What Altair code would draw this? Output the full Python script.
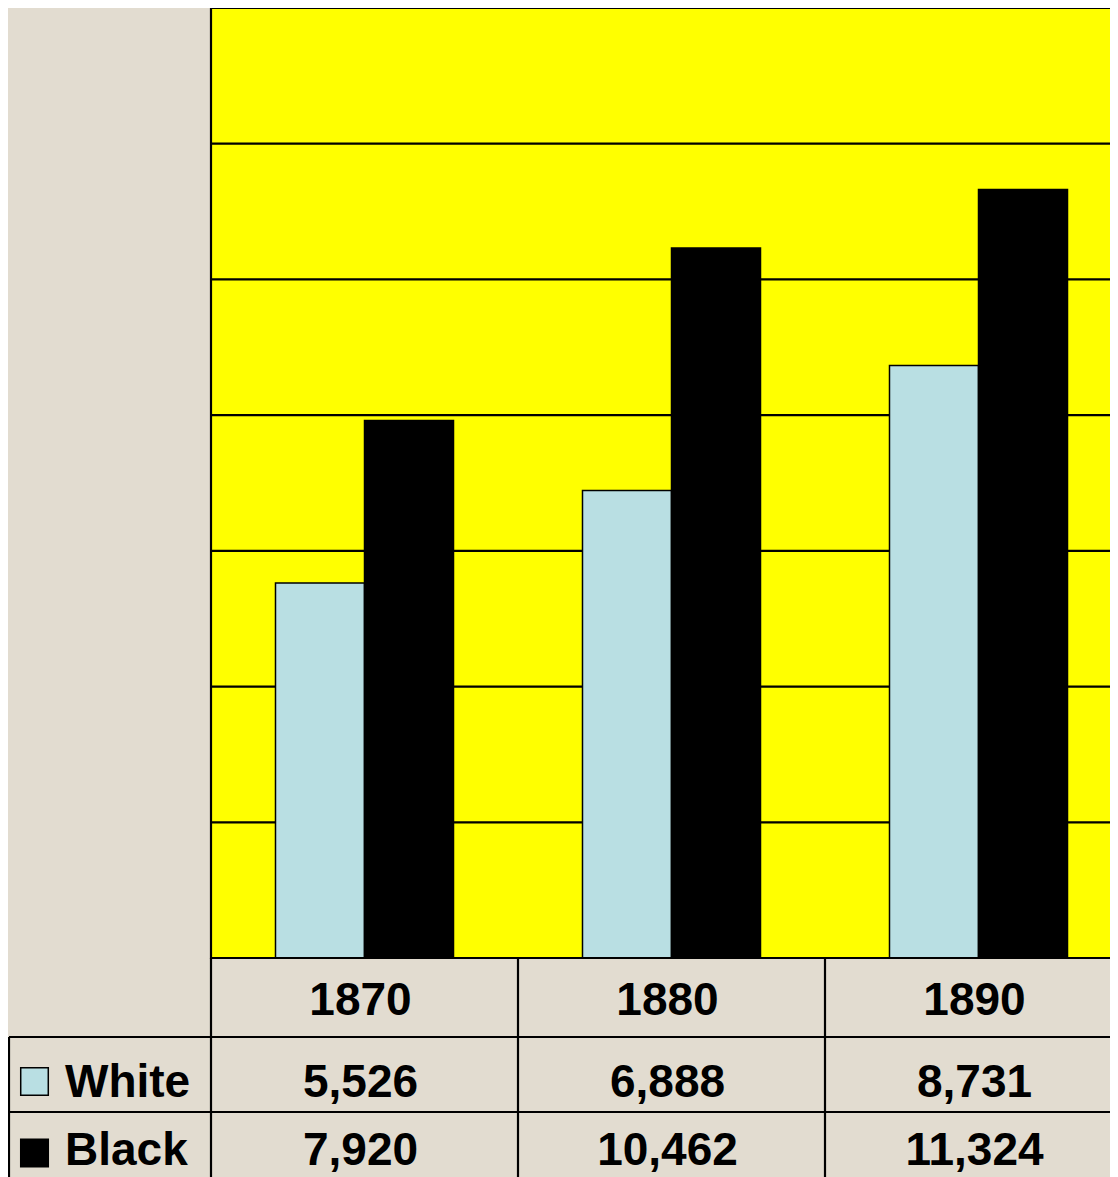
import altair as alt
import pandas as pd

# ---- data ----
years = ["1870", "1880", "1890"]
white_values = [5526, 6888, 8731]
black_values = [7920, 10462, 11324]
series = ["White", "Black"]
series_colors = ["#b9dfe3", "#000000"]
grid_values = [2000, 4000, 6000, 8000, 10000, 12000]

bars_df = pd.DataFrame({
    "year": years * 2,
    "series": ["White"] * len(years) + ["Black"] * len(years),
    "value": white_values + black_values,
})
years_df = pd.DataFrame({"year": years})
grid_df = pd.DataFrame({"v": grid_values})
series_df = pd.DataFrame({"series": series})
one = pd.DataFrame({"k": [0]})

# ---- layout ----
W, H = 1102, 1169
FONT = "Liberation Sans"
FS = 46
BG = "#e2dcd0"
LW = 2.2

x_scale = alt.Scale(domain=years, range=[203, 1124], paddingInner=0, paddingOuter=0)
y_scale = alt.Scale(domain=[0, 14000], range=[950, 0], nice=False, zero=True)
color_scale = alt.Scale(domain=series, range=series_colors)
X = alt.X("year:N", scale=x_scale, axis=None)

# plot frame (yellow)
frame = alt.Chart(one).mark_rect(fill="#ffff00", stroke="black", strokeWidth=LW).encode(
    x=alt.value(203), x2=alt.value(W + 4), y=alt.value(0), y2=alt.value(950)
)

grid = alt.Chart(grid_df).mark_rule(color="black", strokeWidth=LW).encode(
    y=alt.Y("v:Q", scale=y_scale, axis=None), x=alt.value(203), x2=alt.value(W)
)

bars = alt.Chart(bars_df).mark_bar(stroke="black", strokeWidth=1.5).encode(
    x=X,
    xOffset=alt.XOffset("series:N", scale=alt.Scale(domain=series, paddingInner=0, paddingOuter=0.7247)),
    y=alt.Y("value:Q", scale=y_scale, axis=None),
    color=alt.Color("series:N", scale=color_scale, legend=None),
)

# table lines
hl0 = alt.Chart(one).mark_rule(color="black", strokeWidth=LW).encode(
    x=alt.value(203), x2=alt.value(W), y=alt.value(950))
hl1 = alt.Chart(one).mark_rule(color="black", strokeWidth=LW).encode(
    x=alt.value(1), x2=alt.value(W), y=alt.value(1029))
hl2 = alt.Chart(one).mark_rule(color="black", strokeWidth=LW).encode(
    x=alt.value(1), x2=alt.value(W), y=alt.value(1104))
vl_left = alt.Chart(one).mark_rule(color="black", strokeWidth=LW).encode(
    x=alt.value(1), y=alt.value(1029), y2=alt.value(H))
vl_cols = alt.Chart(years_df).mark_rule(color="black", strokeWidth=LW).encode(
    x=alt.X("year:N", scale=x_scale, axis=None, bandPosition=0), y=alt.value(950), y2=alt.value(H))

text_style = dict(font=FONT, fontWeight="bold", fontSize=FS, baseline="alphabetic", color="black")

year_text = alt.Chart(years_df).mark_text(align="center", dx=-4, **text_style).encode(
    x=X, y=alt.value(1007), text="year:N")

row_baselines = {"White": 1089, "Black": 1157}
swatch_centers = {"White": 1073.5, "Black": 1145}

layers = [frame, grid, bars, hl0, hl1, hl2, vl_left, vl_cols, year_text]
for s in series:
    layers.append(
        alt.Chart(bars_df).transform_filter(alt.datum.series == s)
        .mark_text(align="center", dx=-4, **text_style)
        .encode(x=X, y=alt.value(row_baselines[s]), text=alt.Text("value:Q", format=","))
    )
    layers.append(
        alt.Chart(series_df).transform_filter(alt.datum.series == s)
        .mark_square(size=760, stroke="black", strokeWidth=1.5, opacity=1)
        .encode(x=alt.value(26.5), y=alt.value(swatch_centers[s]),
                color=alt.Color("series:N", scale=color_scale, legend=None))
    )
    layers.append(
        alt.Chart(series_df).transform_filter(alt.datum.series == s)
        .mark_text(align="left", **text_style)
        .encode(x=alt.value(57), y=alt.value(row_baselines[s]), text="series:N")
    )

chart = alt.layer(*layers).properties(
    width=W, height=H,
    autosize=alt.AutoSizeParams(type="none"),
    padding=0,
    background=BG,
).configure_view(stroke=None)

chart.save("out.html", embed_options={"renderer": "svg", "actions": False})
